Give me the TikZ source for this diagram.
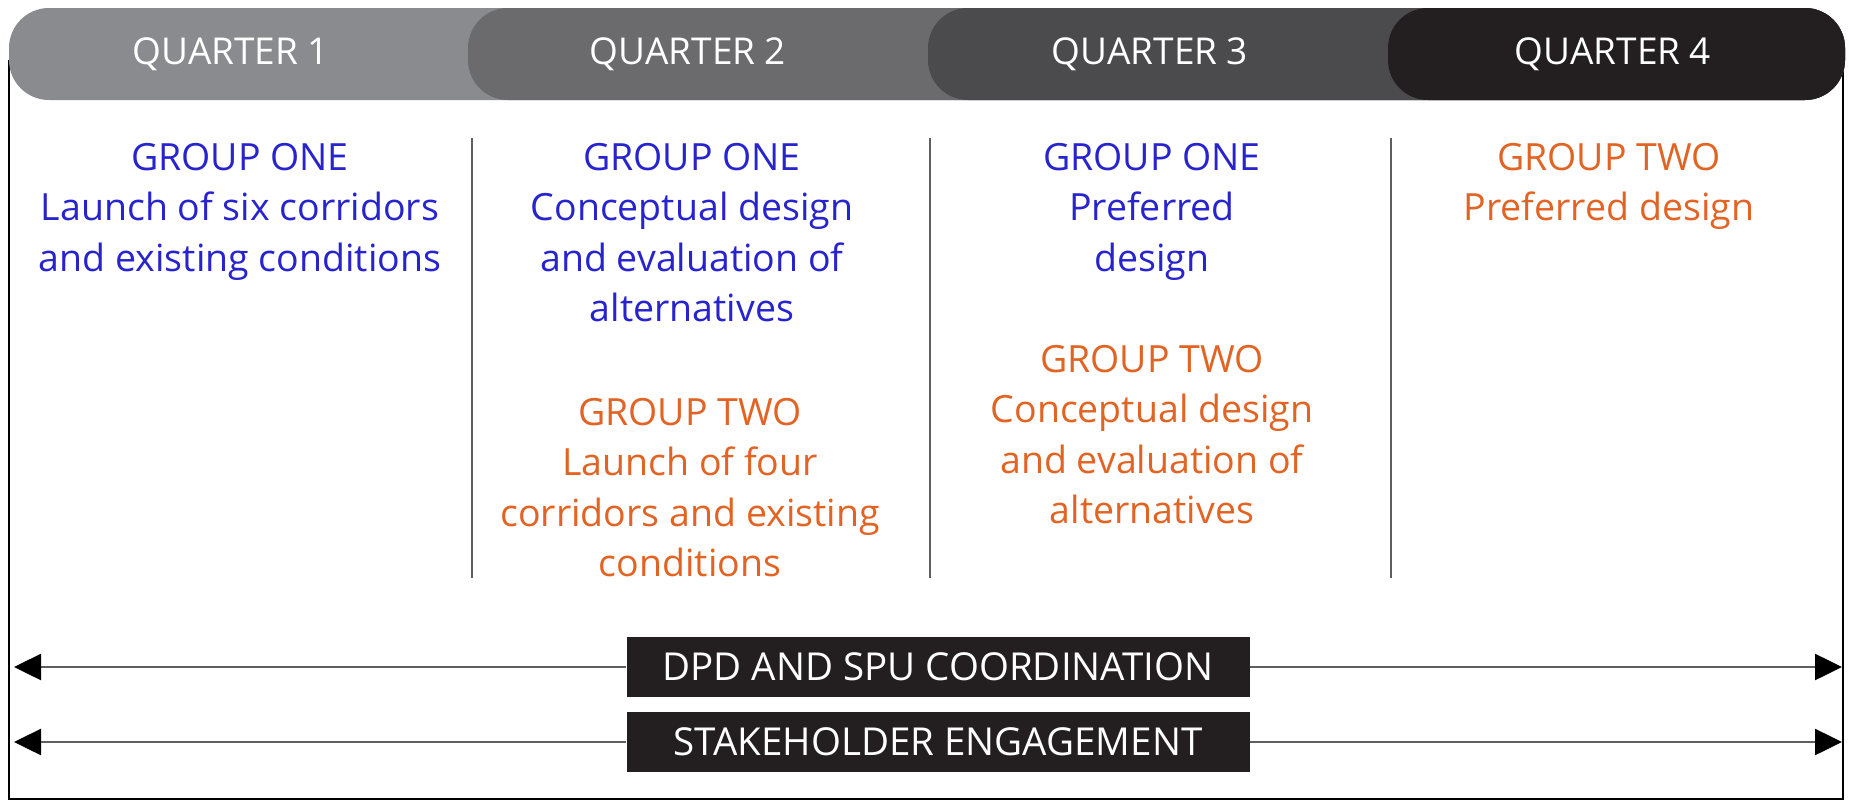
\documentclass[tikz,border=0pt]{standalone}
\usepackage{fontspec}
\setmainfont{Open Sans}
\usetikzlibrary{arrows.meta}
\definecolor{qone}{HTML}{898B8E}
\definecolor{qtwo}{HTML}{6B6B6E}
\definecolor{qthree}{HTML}{4B4A4D}
\definecolor{qfour}{HTML}{231F20}
\definecolor{gblue}{RGB}{40,36,205}
\definecolor{gorange}{RGB}{226,100,36}
\definecolor{lineg}{RGB}{95,95,95}
\begin{document}
\begin{tikzpicture}[x=1pt,y=-1pt,
  tab/.style={rounded corners=40pt},
  qtext/.style={text=white, inner sep=0pt, font=\fontsize{37}{44}\selectfont},
  body/.style={align=center, inner sep=0pt, anchor=north, font=\fontsize{37.5}{50.5}\selectfont},
  grpone/.style={body, text=gblue},
  grptwo/.style={body, text=gorange},
  frame/.style={draw=black, line width=2.5pt},
  divider/.style={draw=lineg, line width=2pt},
  band/.style={fill=qfour, text=white, inner sep=0pt, minimum width=623pt, minimum height=60pt, font=\fontsize{38.5}{44}\selectfont},
  span/.style={draw=lineg, line width=2.5pt, -{Triangle[length=27pt,width=26pt,color=black]}}
]
\useasboundingbox (0,0) rectangle (1849,803);
% outer frame
\draw[frame] (9,60) -- (9,799) -- (1843,799) -- (1843,60);
% header tabs
\fill[qone, tab] (9,8) rectangle (1845,100);
\fill[qtwo, tab] (468,8) rectangle (1845,100);
\fill[qthree, tab] (928,8) rectangle (1845,100);
\fill[qfour, tab] (1388,8) rectangle (1845,100);
\node[qtext] (h1) at (231,54) {QUARTER 1};
\node[qtext] (h2) at (688,54) {QUARTER 2};
\node[qtext] (h3) at (1150,54) {QUARTER 3};
\node[qtext] (h4) at (1613,54) {QUARTER 4};
% dividers
\coordinate (d1t) at (472,138); \coordinate (d1b) at (472,578);
\coordinate (d2t) at (930,138); \coordinate (d2b) at (930,578);
\coordinate (d3t) at (1391,138); \coordinate (d3b) at (1391,578);
\draw[divider] (d1t) -- (d1b);
\draw[divider] (d2t) -- (d2b);
\draw[divider] (d3t) -- (d3b);
% column texts
\node[grpone] (c1a) at (240,143) {GROUP ONE\\Launch of six corridors\\and existing conditions};
\node[grpone] (c2a) at (692,143) {GROUP ONE\\Conceptual design\\and evaluation of\\alternatives};
\node[grptwo] (c2b) at (690,398) {GROUP TWO\\Launch of four\\corridors and existing\\conditions};
\node[grpone] (c3a) at (1152,143) {GROUP ONE\\Preferred\\design};
\node[grptwo] (c3b) at (1152,345) {GROUP TWO\\Conceptual design\\and evaluation of\\alternatives};
\node[grptwo] (c4b) at (1609,143) {GROUP TWO\\Preferred design};
% bands
\node[band] (dpd) at (938,667) {DPD AND SPU COORDINATION};
\node[band] (stk) at (938,742) {STAKEHOLDER ENGAGEMENT};
\coordinate (dpdL) at (14,667); \coordinate (dpdR) at (1842,667);
\coordinate (stkL) at (14,742); \coordinate (stkR) at (1842,742);
\draw[span] (dpd.west) -- (dpdL);
\draw[span] (dpd.east) -- (dpdR);
\draw[span] (stk.west) -- (stkL);
\draw[span] (stk.east) -- (stkR);
\end{tikzpicture}
\end{document}
